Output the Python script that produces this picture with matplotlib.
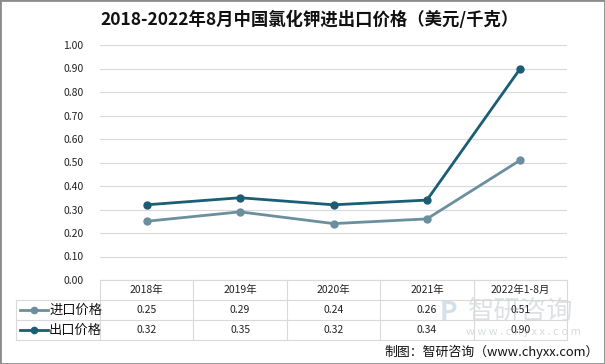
import matplotlib

matplotlib.use("Agg")
import matplotlib.pyplot as plt
from matplotlib.lines import Line2D
from matplotlib.patches import Rectangle

plt.rcParams["font.family"] = ["Noto Sans CJK SC", "DejaVu Sans"]

categories = ["2018年", "2019年", "2020年", "2021年", "2022年1-8月"]
import_price = [0.25, 0.29, 0.24, 0.26, 0.51]
export_price = [0.32, 0.35, 0.32, 0.34, 0.90]
series_names = ["进口价格", "出口价格"]
series_colors = ["#6b8f9e", "#1b5d74"]
yticks = [0.0, 0.1, 0.2, 0.3, 0.4, 0.5, 0.6, 0.7, 0.8, 0.9, 1.0]

W, H = 605, 364
fig = plt.figure(figsize=(W / 100, H / 100), dpi=100)


def fx(px):
    return px / W


def fy(py):
    return 1 - py / H


# plot area in pixel coords
x0, x1 = 100, 567
y_top, y_bot = 45, 280
ax = fig.add_axes([fx(x0), fy(y_bot), fx(x1) - fx(x0), fy(y_top) - fy(y_bot)])

n = len(categories)
xs = [i + 0.5 for i in range(n)]
for vals, col in zip([import_price, export_price], series_colors):
    ax.plot(xs, vals, color=col, lw=2.0, marker="o", ms=5, zorder=3)

ax.set_xlim(0, n)
ax.set_ylim(0, 1.0)
ax.set_yticks(yticks)
ax.set_yticklabels([f"{v:.2f}" for v in yticks], fontsize=7.5, color="#222222")
ax.set_xticks([])
ax.tick_params(axis="y", length=0, pad=12)
ax.grid(axis="y", color="#d9d9d9", lw=0.8)
for s in ax.spines.values():
    s.set_visible(False)
ax.set_axisbelow(True)

# data table below plot
grid_col = "#d9d9d9"
row_y = [280, 300, 320, 340]
table_left = 16
col_x = [x0 + (x1 - x0) * i / n for i in range(n + 1)]


def hline(y, xa, xb):
    fig.add_artist(Line2D([fx(xa), fx(xb)], [fy(y), fy(y)], color=grid_col, lw=0.8))


def vline(x, ya, yb):
    fig.add_artist(Line2D([fx(x), fx(x)], [fy(ya), fy(yb)], color=grid_col, lw=0.8))


hline(row_y[0], x0, x1)
for y in row_y[1:]:
    hline(y, table_left, x1)
for x in col_x:
    vline(x, row_y[0], row_y[3])
vline(table_left, row_y[1], row_y[3])

for i, cat in enumerate(categories):
    cx = (col_x[i] + col_x[i + 1]) / 2
    fig.text(fx(cx), fy((row_y[0] + row_y[1]) / 2), cat, ha="center", va="center",
             fontsize=7.5, color="#222222")

# watermark (drawn first, sits behind the table values)
fig.text(fx(468), fy(311), "智研咨询", ha="left", va="center", fontsize=19,
         color="#c3c9ce", alpha=0.55, zorder=0)
fig.text(fx(440), fy(312), "P", ha="left", va="center", fontsize=19, fontweight="bold",
         color="#a9c4d8", alpha=0.5, zorder=0)
fig.text(fx(466), fy(332), "w w w . c h y x x . c o m", ha="left", va="center", fontsize=8,
         color="#c8cdd1", alpha=0.7, zorder=0)

for r, (name, vals, col) in enumerate(zip(series_names, [import_price, export_price], series_colors)):
    ymid = (row_y[r + 1] + row_y[r + 2]) / 2
    fig.add_artist(Line2D([fx(20), fx(48)], [fy(ymid), fy(ymid)], color=col, lw=2.0))
    fig.add_artist(Line2D([fx(34)], [fy(ymid)], color=col, marker="o", ms=4.5, lw=0))
    fig.text(fx(49), fy(ymid), name, ha="left", va="center", fontsize=9.5, color="#111111")
    for i, v in enumerate(vals):
        cx = (col_x[i] + col_x[i + 1]) / 2
        fig.text(fx(cx), fy(ymid), f"{v:.2f}", ha="center", va="center",
                 fontsize=7.5, color="#222222", zorder=2)

# title
fig.text(fx(310), fy(20), "2018-2022年8月中国氯化钾进出口价格（美元/千克）", ha="center", va="center",
         fontsize=12.5, fontweight="bold", color="#111111")

# source
fig.text(fx(599), fy(352), "制图：智研咨询（www.chyxx.com）", ha="right", va="center",
         fontsize=9.3, color="#111111")

# outer border
fig.add_artist(Rectangle((0, 0), 1, 1, transform=fig.transFigure, fill=False,
                         edgecolor="#8c8c8c", lw=2.0))

fig.savefig("out.png", dpi=100, facecolor="white")
